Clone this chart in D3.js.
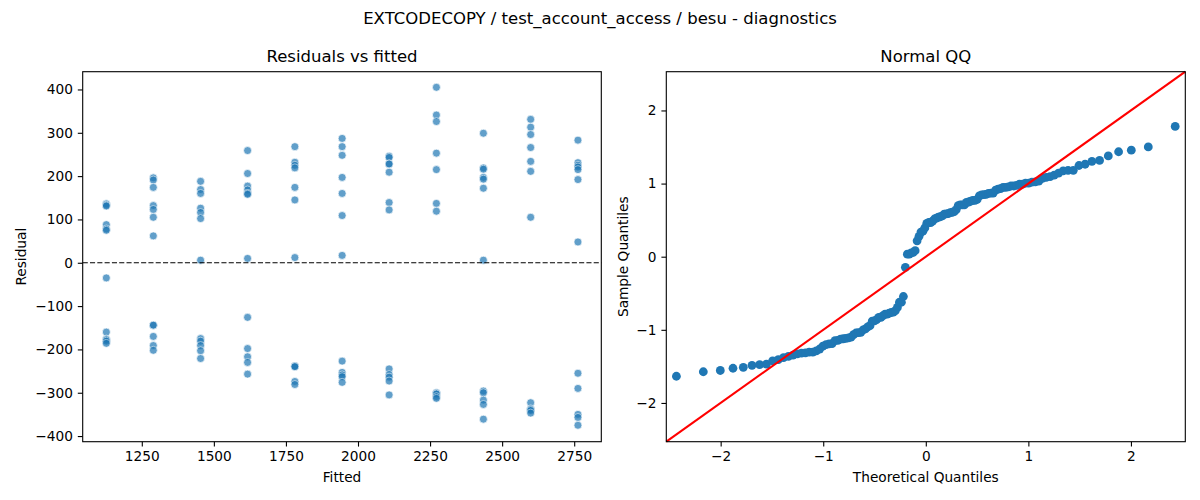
<!DOCTYPE html>
<html>
<head>
<meta charset="utf-8">
<script src="https://cdn.jsdelivr.net/npm/d3@7"></script>
<style>
  body { margin: 0; background: #fff; }
  svg { font-family: "DejaVu Sans", sans-serif; }
</style>
</head>
<body>
<div id="chart"></div>
<script>
// fitted values (one column of points per fitted value)
const fitted = [1127, 1290, 1454, 1617, 1781, 1945, 2108, 2272, 2435, 2599, 2763];

// residuals for each fitted value
const residuals = [
  [136, 133, 131, 88, 78, 75, -35, -160, -176, -178, -181, -186],
  [196, 191, 174, 132, 123, 105, 62, -144, -144, -170, -191, -202],
  [188, 169, 160, 126, 116, 102, 6, -175, -181, -191, -203, -221],
  [259, 206, 177, 168, 160, 158, 10, -126, -198, -217, -230, -257],
  [268, 232, 225, 219, 174, 145, 12, -238, -239, -240, -274, -281],
  [287, 268, 248, 197, 160, 109, 17, -227, -253, -259, -263, -276],
  [246, 243, 228, 228, 209, 139, 122, -245, -258, -264, -273, -305],
  [405, 341, 326, 253, 215, 137, 119, -300, -302, -303, -309, -313],
  [299, 219, 216, 197, 193, 172, 6, -296, -300, -317, -327, -361],
  [331, 313, 296, 266, 234, 211, 105, -323, -337, -339, -341, -347],
  [283, 231, 225, 221, 215, 192, 48, -255, -290, -350, -357, -375]
];

const fittedTicks = [1250, 1500, 1750, 2000, 2250, 2500, 2750];
const residTicks = [-400, -300, -200, -100, 0, 100, 200, 300, 400];
const qqTicks = [-2, -1, 0, 1, 2];

// inverse normal cdf (Acklam), used for the theoretical quantiles
function normPpf(p) {
  var a = [-3.969683028665376e+01, 2.209460984245205e+02, -2.759285104469687e+02,
           1.383577518672690e+02, -3.066479806614716e+01, 2.506628277459239e+00];
  var b = [-5.447609879822406e+01, 1.615858368580409e+02, -1.556989798598866e+02,
           6.680131188771972e+01, -1.328068155288572e+01];
  var c = [-7.784894002430293e-03, -3.223964580411365e-01, -2.400758277161838e+00,
           -2.549732539343734e+00, 4.374664141464968e+00, 2.938163982698783e+00];
  var d = [7.784695709041462e-03, 3.224671290700398e-01, 2.445134137142996e+00,
           3.754408145901111e+00];
  var pl = 0.02425, q, r;
  if (p < pl) {
    q = Math.sqrt(-2 * Math.log(p));
    return (((((c[0]*q+c[1])*q+c[2])*q+c[3])*q+c[4])*q+c[5]) / ((((d[0]*q+d[1])*q+d[2])*q+d[3])*q+1);
  }
  if (p > 1 - pl) {
    q = Math.sqrt(-2 * Math.log(1 - p));
    return -(((((c[0]*q+c[1])*q+c[2])*q+c[3])*q+c[4])*q+c[5]) / ((((d[0]*q+d[1])*q+d[2])*q+d[3])*q+1);
  }
  q = p - 0.5; r = q * q;
  return (((((a[0]*r+a[1])*r+a[2])*r+a[3])*r+a[4])*r+a[5])*q / (((((b[0]*r+b[1])*r+b[2])*r+b[3])*r+b[4])*r+1);
}

var W = 1200, H = 500;
var plotTop = 71.7, plotBottom = 441.7;
var left1 = 82.7, right1 = 601.3;
var left2 = 666.3, right2 = 1185.3;

var svg = d3.select("#chart").append("svg")
  .attr("width", W).attr("height", H);

function styleAxis(g) {
  g.select(".domain").remove();
  g.attr("font-family", null).attr("font-size", null);
  g.selectAll(".tick line").attr("stroke", "#000").attr("stroke-width", 1.1);
  g.selectAll(".tick text").attr("fill", "#000").style("font-size", "13.7px");
}

// suptitle
svg.append("text")
  .attr("x", 600).attr("y", 24)
  .attr("text-anchor", "middle")
  .style("font-size", "16.5px")
  .text("EXTCODECOPY / test_account_access / besu - diagnostics");

// ---------- Residuals vs fitted ----------
var points = [];
fitted.forEach(function(f, i) {
  residuals[i].forEach(function(r) { points.push({f: f, r: r}); });
});

var x1 = d3.scaleLinear().domain([1045, 2844]).range([left1, right1]);
var y1 = d3.scaleLinear().domain([-413, 441]).range([plotBottom, plotTop]);

var g1 = svg.append("g");

g1.selectAll("circle")
  .data(points)
  .enter()
  .append("circle")
  .attr("cx", function(d) { return x1(d.f); })
  .attr("cy", function(d) { return y1(d.r); })
  .attr("r", 4)
  .attr("fill", "#1f77b4")
  .attr("stroke", "#fff")
  .attr("stroke-width", 0.7)
  .attr("opacity", 0.7);

g1.append("line")
  .attr("x1", left1).attr("x2", right1)
  .attr("y1", y1(0)).attr("y2", y1(0))
  .attr("stroke", "#000")
  .attr("stroke-width", 1.1)
  .attr("stroke-dasharray", "5.1,2.2");

g1.append("g")
  .attr("transform", "translate(0," + plotBottom + ")")
  .call(d3.axisBottom(x1).tickValues(fittedTicks).tickFormat(d3.format("d"))
    .tickSizeInner(4.9).tickSizeOuter(0).tickPadding(4.9))
  .call(styleAxis);

g1.append("g")
  .attr("transform", "translate(" + left1 + ",0)")
  .call(d3.axisLeft(y1).tickValues(residTicks).tickFormat(d3.format("d"))
    .tickSizeInner(4.9).tickSizeOuter(0).tickPadding(4.9))
  .call(styleAxis);

g1.append("rect")
  .attr("x", left1).attr("y", plotTop)
  .attr("width", right1 - left1).attr("height", plotBottom - plotTop)
  .attr("fill", "none").attr("stroke", "#000").attr("stroke-width", 1.1);

g1.append("text")
  .attr("x", (left1 + right1) / 2).attr("y", 62)
  .attr("text-anchor", "middle")
  .style("font-size", "16.5px")
  .text("Residuals vs fitted");

g1.append("text")
  .attr("x", (left1 + right1) / 2).attr("y", 482)
  .attr("text-anchor", "middle")
  .style("font-size", "13.7px")
  .text("Fitted");

g1.append("text")
  .attr("transform", "translate(26," + (plotTop + plotBottom) / 2 + ") rotate(-90)")
  .attr("text-anchor", "middle")
  .style("font-size", "13.7px")
  .text("Residual");

// ---------- Normal QQ ----------
var allRes = points.map(function(d) { return d.r; }).sort(d3.ascending);
var n = allRes.length;
var mu = d3.mean(allRes);
var sd = Math.sqrt(d3.mean(allRes, function(v) { return (v - mu) * (v - mu); }));
var qq = allRes.map(function(v, i) {
  return {t: normPpf((i + 1) / (n + 1)), s: (v - mu) / sd};
});

var lim = 2.53;
var x2 = d3.scaleLinear().domain([-lim, lim]).range([left2, right2]);
var y2 = d3.scaleLinear().domain([-lim, lim]).range([plotBottom, plotTop]);

var g2 = svg.append("g");

g2.selectAll("circle")
  .data(qq)
  .enter()
  .append("circle")
  .attr("cx", function(d) { return x2(d.t); })
  .attr("cy", function(d) { return y2(d.s); })
  .attr("r", 4.4)
  .attr("fill", "#1f77b4");

g2.append("line")
  .attr("x1", x2(-lim)).attr("y1", y2(-lim))
  .attr("x2", x2(lim)).attr("y2", y2(lim))
  .attr("stroke", "red")
  .attr("stroke-width", 2.1);

g2.append("g")
  .attr("transform", "translate(0," + plotBottom + ")")
  .call(d3.axisBottom(x2).tickValues(qqTicks).tickFormat(d3.format("d"))
    .tickSizeInner(4.9).tickSizeOuter(0).tickPadding(4.9))
  .call(styleAxis);

g2.append("g")
  .attr("transform", "translate(" + left2 + ",0)")
  .call(d3.axisLeft(y2).tickValues(qqTicks).tickFormat(d3.format("d"))
    .tickSizeInner(4.9).tickSizeOuter(0).tickPadding(4.9))
  .call(styleAxis);

g2.append("rect")
  .attr("x", left2).attr("y", plotTop)
  .attr("width", right2 - left2).attr("height", plotBottom - plotTop)
  .attr("fill", "none").attr("stroke", "#000").attr("stroke-width", 1.1);

g2.append("text")
  .attr("x", (left2 + right2) / 2).attr("y", 62)
  .attr("text-anchor", "middle")
  .style("font-size", "16.5px")
  .text("Normal QQ");

g2.append("text")
  .attr("x", (left2 + right2) / 2).attr("y", 482)
  .attr("text-anchor", "middle")
  .style("font-size", "13.7px")
  .text("Theoretical Quantiles");

g2.append("text")
  .attr("transform", "translate(627.5," + (plotTop + plotBottom) / 2 + ") rotate(-90)")
  .attr("text-anchor", "middle")
  .style("font-size", "13.7px")
  .text("Sample Quantiles");
</script>
</body>
</html>
